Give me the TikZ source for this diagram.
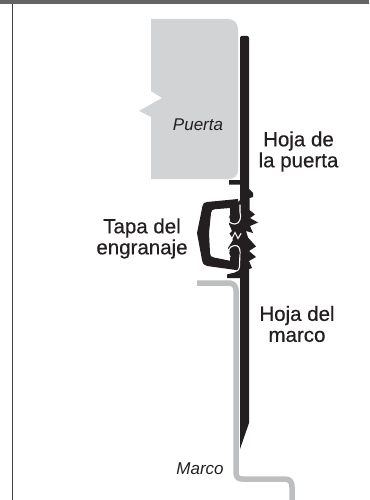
\documentclass[tikz,border=0pt]{standalone}
\usepackage{fontspec}
\setmainfont{Liberation Sans}
\newfontfamily\labfont[FakeBold=0.4]{Liberation Sans}
\definecolor{doorgray}{RGB}{209,211,212}
\definecolor{framegray}{RGB}{188,190,192}
\definecolor{ink}{RGB}{35,31,32}
\definecolor{band}{RGB}{99,100,102}
\tikzset{
  lab/.style={align=center,font=\fontsize{20.5}{21}\labfont,text=ink,inner sep=0pt},
  ital/.style={font=\fontsize{17}{20}\selectfont\itshape,text=ink,inner sep=0pt},
  gap/.style={draw=white,line width=1.1pt,line cap=round},
}
\begin{document}
\begin{tikzpicture}[x=1pt,y=-1pt]
\useasboundingbox (0,0) rectangle (369,500);
\fill[white] (0,0) rectangle (369,500);
\fill[band] (0,0) rectangle (369,4);
\fill[ink!85] (11.5,4) rectangle (13,500);
% door
\fill[doorgray] (151,19) -- (228,19) .. controls (234,19) and (238,23) .. (238,29)
  -- (238,170) .. controls (238,176) and (234,179) .. (228,179) -- (151,179) -- (151,117) -- (139,111) -- (162,98) -- (151,91) -- cycle;
% frame
\draw[framegray,line width=5.5pt,line join=round] (197,283) -- (229,283) .. controls (233,283) and (236,286) .. (236,290)
  -- (236,472) .. controls (236,477) and (238,479) .. (242,479) -- (285,479) .. controls (290,479) and (292,482) .. (292,487) -- (292,500);
% leaf with flanges and teeth
\fill[ink] (240,38) .. controls (240,36.5) and (241,36) .. (242,36) -- (247,36) .. controls (248,36) and (249,36.5) .. (249,38)
  -- (249,189) -- (253,193) -- (253,197) -- (249.5,198) -- (249.5,210) -- (255,214.5) -- (250,218) -- (258,222.5) -- (250,226)
  -- (253,233) -- (246,231) -- (248,237.5) -- (256,246.5) -- (249,251) -- (256,257) -- (249,261) -- (252,268) -- (249,269)
  -- (249,423) -- (240,449) -- (240,278) -- (227,278) -- (227,274.5) -- (236,272) -- (236,262)
  -- (228,248) -- (233,240) -- (229,234) -- (232,231) -- (229,224) -- (235,205) -- (240,200)
  -- (240,184.5) -- (229,184.5) -- (229,180) -- (240,180) -- cycle;
% cap
\fill[ink] (238,199) -- (207,202) .. controls (204,202.5) and (203,203) .. (202.5,206)
  -- (197,233) -- (202,260) .. controls (203,264) and (204,265.5) .. (207,266) -- (236,270) -- (236,262) -- (214,257.5)
  .. controls (211,257) and (210,256) .. (210,253) -- (209,233) -- (211,213) .. controls (211.5,210) and (212.5,209.5) .. (215,209.2)
  -- (230,208) -- (238,208) -- cycle;
\fill[ink] (230,205) rectangle (238,214);
\fill[ink] (230,257) rectangle (238,268);
% white separations between cap, knuckles and gear
\draw[gap] (240,205) -- (240,212) .. controls (241.5,217) and (240,224) .. (235,224) .. controls (233,224) and (231,223.5) .. (229.5,222);
\draw[gap] (229,250) .. controls (230,246.5) and (233,245.5) .. (235,245.5) .. controls (238.5,245.5) and (240,248) .. (240,252)
  -- (239.5,266) .. controls (239.5,270) and (237,271.5) .. (234,272) -- (228,273);
\draw[gap] (229,234) -- (232,238.5) -- (235,232.5) -- (238,238.5) -- (241,233.5);
% knuckles
\fill[ink] (234.5,217) circle (5.3);
\fill[ink] (234.5,253) circle (5.3);
% labels
\node[ital] (p) at (198,125) {Puerta};
\node[lab] (h1) at (298.5,151.5) {Hoja de\\la puerta};
\node[lab] (t) at (142,238.5) {Tapa del\\engranaje};
\node[lab] (h2) at (297,324) {Hoja del\\marco};
\node[ital] (m) at (200,469) {Marco};
\end{tikzpicture}
\end{document}
